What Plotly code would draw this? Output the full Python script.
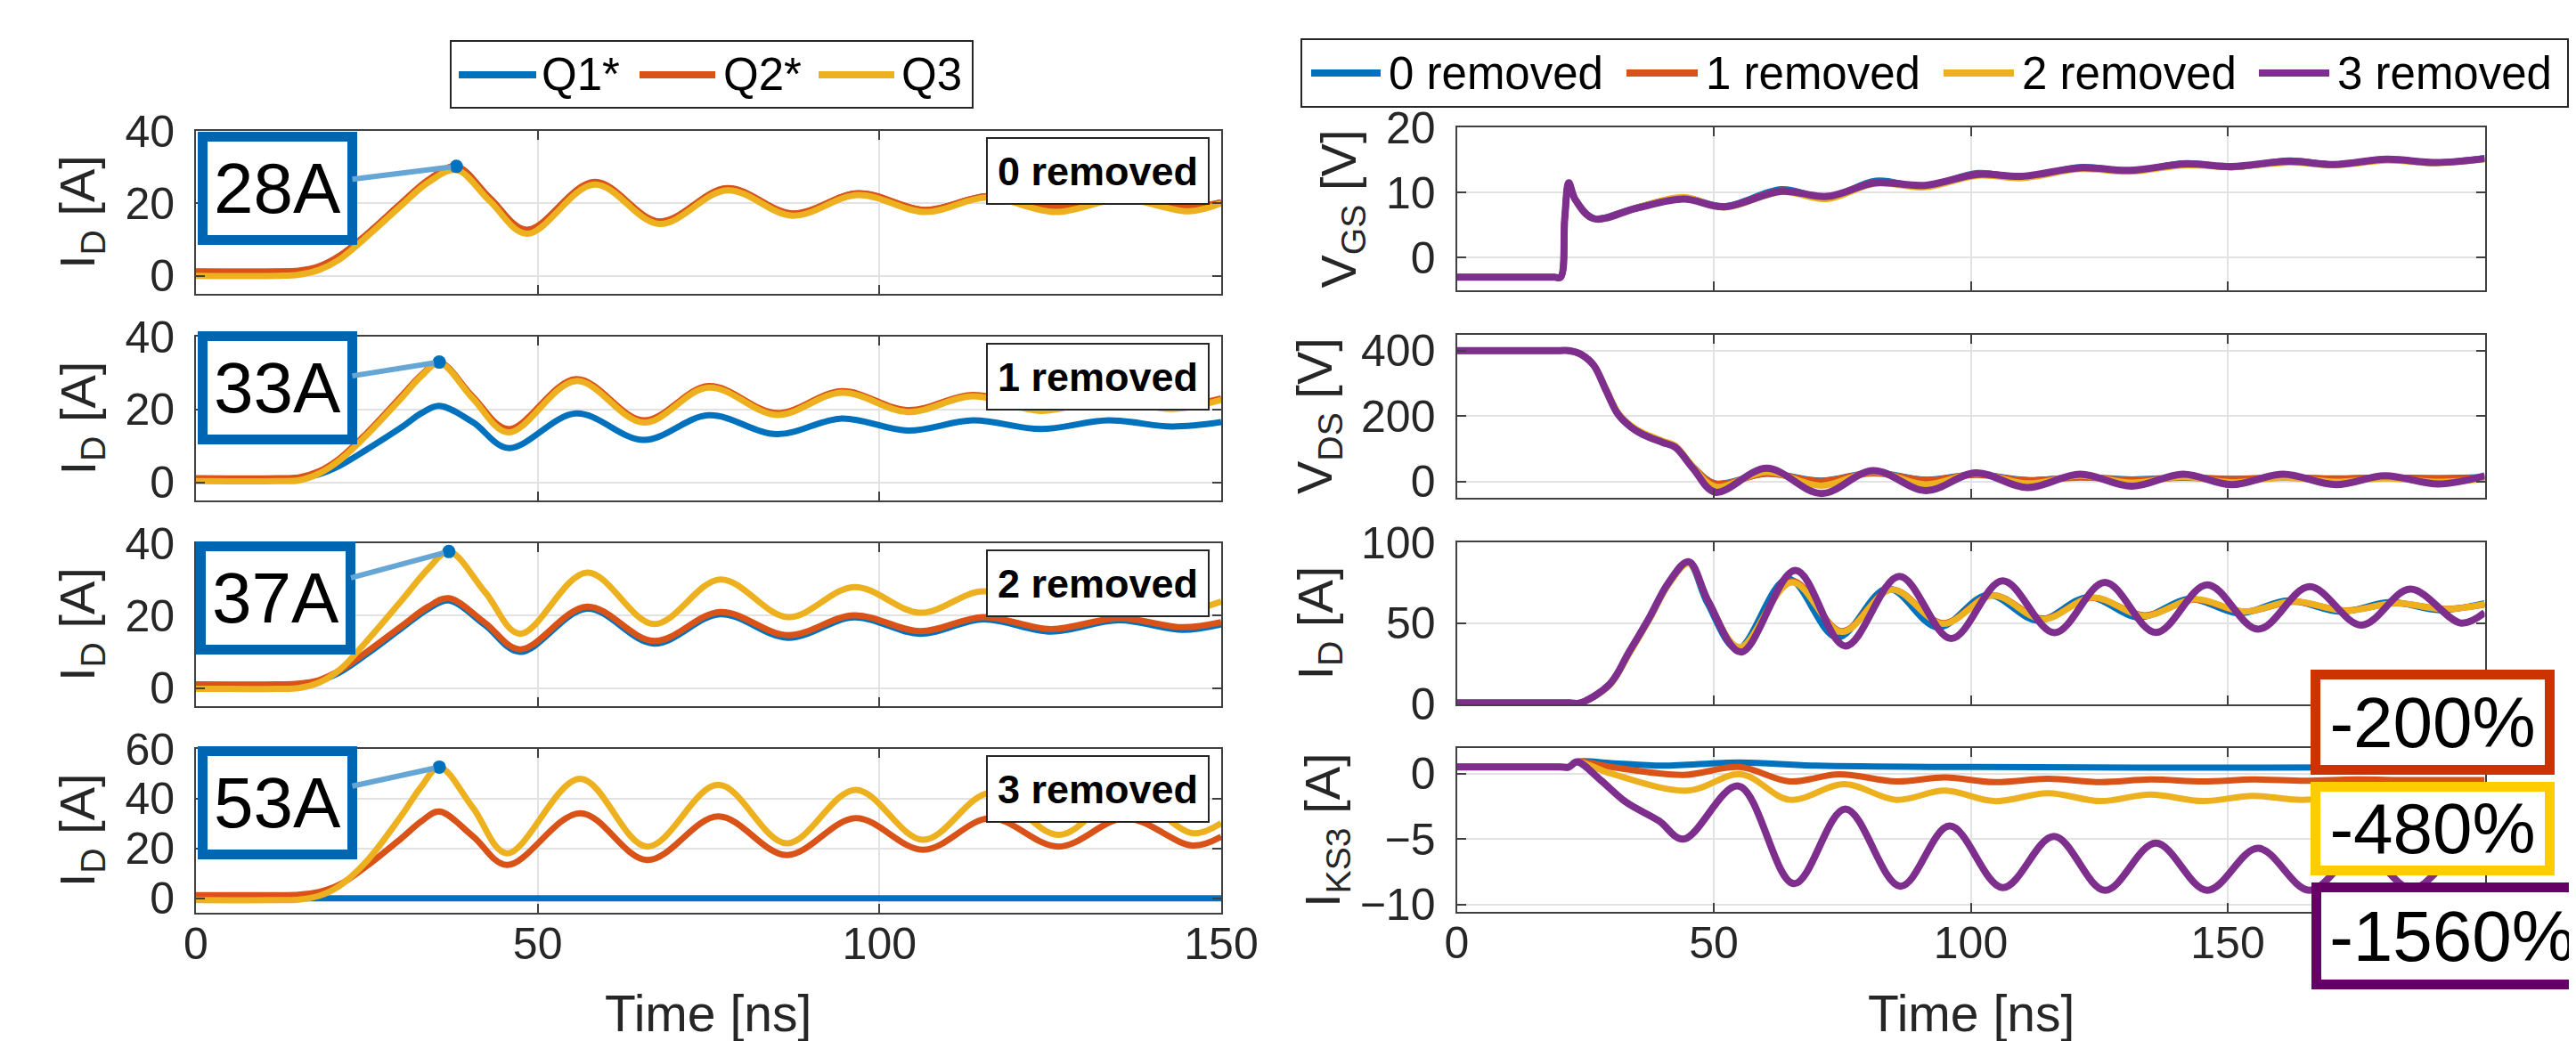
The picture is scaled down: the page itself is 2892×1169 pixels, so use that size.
import plotly.graph_objects as go

W, H = 2892, 1169

# ---------------- data ----------------
left_names = ["Q1*", "Q2*", "Q3"]
right_names = ["0 removed", "1 removed", "2 removed", "3 removed"]
panel_labels = ["0 removed", "1 removed", "2 removed", "3 removed"]
peak_labels = ["28A", "33A", "37A", "53A"]
peak_t = [38.1, 35.6, 37.0, 35.6]
peak_v = [30.2, 33.0, 37.7, 52.7]
pct_labels = ["-200%", "-480%", "-1560%"]
x_title = "Time [ns]"
left_ylabels = [("I", "D", "[A]")] * 4
right_ylabels = [("V", "GS", "[V]"), ("V", "DS", "[V]"), ("I", "D", "[A]"), ("I", "KS3", "[A]")]
left_xticks = [0, 50, 100, 150]
left_xticktext = ["0", "50", "100", "150"]
right_xticks = [0, 50, 100, 150, 200]
right_xticktext = ["0", "50", "100", "150", ""]   # 200 hidden behind the -1560% box
left_yticks = [[0, 20, 40], [0, 20, 40], [0, 20, 40], [0, 20, 40, 60]]
right_yticks = [[0, 10, 20], [0, 200, 400], [0, 50, 100], [-10, -5, 0]]

# left panel 1 (0 removed)
L1_t = [0, 12, 15, 18, 21, 25, 30, 34, 38.1, 43, 48.4, 58.3, 67.8, 77.7, 87.3, 96.9, 106.7, 115.8, 125.7, 135.4, 145.3, 150]
L1_q1 = [1.1, 1.1, 1.3, 2.5, 5.4, 11.4, 19.9, 26.4, 30.1, 21.4, 12.6, 25.8, 14.9, 24.1, 17.1, 22.7, 18.1, 21.9, 18.7, 21.2, 18.9, 20.2]
L1_q2 = [1.2, 1.2, 1.4, 2.6, 5.5, 11.5, 20.0, 26.5, 30.2, 21.5, 12.7, 25.9, 15.0, 24.2, 17.2, 22.8, 18.2, 22.0, 18.8, 21.3, 19.0, 20.3]
L1_q3 = [0.0, 0.0, 0.3, 1.6, 4.5, 10.8, 19.3, 25.8, 29.2, 20.6, 11.6, 25.2, 14.3, 23.6, 16.6, 22.3, 17.6, 21.6, 17.6, 21.2, 17.8, 20.0]

# left panel 2 (1 removed)
L2_t = [0, 12, 15, 18, 21, 25, 30, 33, 35.6, 40.5, 45.7, 55.6, 65.5, 75.0, 85.0, 94.5, 104.2, 113.7, 123.6, 133.5, 142.8, 150]
L2_q1 = [1.0, 1.0, 1.2, 2.2, 4.5, 9.0, 15.0, 19.0, 21.0, 16.5, 9.4, 18.9, 11.6, 18.4, 13.2, 17.5, 14.2, 17.0, 14.6, 17.0, 15.3, 16.5]
L2_q2 = [1.1, 1.1, 1.3, 3.0, 6.5, 13.5, 23.5, 29.5, 33.0, 23.5, 14.6, 28.3, 17.0, 26.4, 19.0, 25.0, 19.8, 24.0, 20.2, 23.2, 20.7, 23.0]
L2_q3 = [0.3, 0.3, 0.5, 2.4, 6.0, 13.0, 23.0, 29.2, 32.8, 23.0, 13.7, 27.8, 16.4, 26.0, 18.5, 24.6, 19.3, 23.6, 19.6, 22.8, 20.1, 22.6]

# left panel 3 (2 removed)
L3_t = [0, 12, 15, 18, 21, 25, 30, 34, 37.0, 42.3, 47.4, 57.2, 67.0, 76.7, 86.6, 96.3, 106.0, 115.2, 125.1, 135.0, 144.4, 150]
L3_q1 = [0.9, 0.9, 1.1, 2.0, 4.3, 9.4, 16.4, 21.9, 24.2, 17.4, 10.0, 21.9, 12.3, 20.4, 13.9, 19.5, 15.0, 19.0, 15.6, 18.7, 16.1, 17.6]
L3_q2 = [1.0, 1.0, 1.2, 2.2, 4.8, 10.0, 17.0, 22.5, 24.8, 18.0, 10.7, 22.5, 13.0, 21.0, 14.6, 20.1, 15.7, 19.6, 16.3, 19.3, 16.8, 18.2]
L3_q3 = [-0.2, -0.2, 0.0, 1.5, 5.0, 13.0, 24.0, 33.0, 37.7, 26.5, 15.0, 31.9, 17.7, 30.0, 19.6, 27.9, 20.8, 26.7, 21.0, 26.0, 21.5, 23.9]

# left panel 4 (3 removed)
L4_t = [0, 12, 15, 18, 21, 25, 30, 33, 35.6, 40.5, 45.5, 56.2, 66.0, 76.4, 86.4, 96.5, 106.4, 116.2, 126.2, 136.0, 145.8, 150]
L4_q1_t = [0, 150]
L4_q1 = [0.0, 0.0]
L4_q2 = [1.3, 1.3, 1.5, 2.6, 5.5, 13.0, 24.0, 31.0, 34.9, 25.0, 13.4, 34.2, 15.4, 32.9, 17.4, 32.2, 19.5, 32.2, 20.8, 32.2, 21.2, 24.8]
L4_q3 = [-0.7, -0.7, -0.5, 1.0, 5.0, 15.0, 33.0, 45.0, 52.7, 36.5, 18.1, 48.0, 20.8, 45.6, 22.1, 43.6, 23.5, 42.3, 25.5, 42.0, 26.2, 30.2]

# right panel 1: V_GS
R1_t = [0, 19.0, 20.2, 21.0, 21.8, 23.0, 26.6, 35.0, 44.1, 52.0, 63.2, 72.0, 81.5, 91.0, 101.4, 110.0, 121.3, 130.9, 142.0, 150.8, 162.0, 170.7, 181.0, 190.6, 200]
R1_r0 = [-3.0, -3.0, -3.0, 6.0, 11.4, 9.0, 6.1, 7.7, 9.2, 7.9, 10.5, 9.2, 11.8, 10.9, 13.0, 12.3, 13.9, 13.3, 14.5, 13.9, 14.9, 14.3, 15.1, 14.6, 15.3]
R1_r1 = [-3.0, -3.0, -3.0, 6.0, 11.4, 9.0, 6.0, 7.6, 9.1, 7.8, 10.3, 9.3, 11.6, 11.0, 12.9, 12.4, 13.8, 13.3, 14.4, 13.9, 14.8, 14.3, 15.0, 14.6, 15.2]
R1_r2 = [-3.0, -3.0, -3.0, 6.0, 11.4, 9.0, 6.0, 7.7, 9.3, 7.7, 10.1, 9.0, 11.4, 10.8, 12.6, 12.2, 13.6, 13.2, 14.2, 13.9, 14.6, 14.2, 14.9, 14.5, 15.1]
R1_r3 = [-3.0, -3.0, -3.0, 6.0, 11.5, 9.0, 6.0, 7.6, 9.0, 7.8, 10.2, 9.4, 11.5, 11.1, 12.8, 12.5, 13.8, 13.4, 14.4, 14.0, 14.8, 14.3, 15.1, 14.6, 15.2]

# right panel 2: V_DS
R2_t = [0, 20.0, 21.8, 24.0, 26.6, 29.0, 31.4, 34.0, 36.1, 40.0, 42.5, 46.0, 50.3, 60.3, 70.9, 81.0, 91.3, 101.0, 111.0, 121.3, 131.3, 141.3, 150.8, 160.8, 171.0, 180.6, 191.0, 200]
R2_r0 = [400, 400, 400, 390, 356, 280, 205, 165, 145, 120, 107, 45, -5, 25, 3, 28, 6, 22, 5, 14, 7, 13, 9, 13, 10, 13, 11, 14]
R2_r1 = [400, 400, 400, 390, 356, 280, 205, 165, 145, 120, 107, 45, -6, 24, 2, 26, 5, 21, 4, 13, 6, 12, 8, 12, 9, 12, 10, 13]
R2_r2 = [400, 400, 400, 390, 358, 285, 210, 170, 150, 125, 110, 45, -15, 30, -12, 30, -8, 25, -5, 18, -3, 15, -2, 13, 0, 10, 0, 8]
R2_r3 = [400, 400, 400, 390, 356, 280, 205, 165, 145, 120, 105, 40, -32, 41, -36, 34, -27, 27, -18, 23, -14, 23, -9, 23, -9, 18, -7, 18]

# right panel 3: I_D
R3_t0 = [0, 22.0, 24.0, 29.7, 33.5, 37.4, 41.2, 45.0, 48.8, 54.6, 64.4, 74.0, 83.8, 93.6, 103.3, 113.0, 122.8, 132.8, 142.6, 152.2, 161.8, 172.0, 181.6, 191.2, 200]
R3_r0 = [0.5, 0.5, 0.5, 12, 31.5, 52.5, 74.5, 87.5, 62, 34, 77.5, 41, 71.5, 47.2, 67.5, 51.5, 66.0, 53.5, 65.0, 56.0, 64.0, 57.0, 63.0, 58.0, 62.3]
R3_t12 = [0, 22.0, 24.0, 29.7, 33.5, 37.4, 41.2, 45.1, 49.0, 55.0, 65.2, 74.9, 84.6, 94.6, 104.3, 114.0, 123.7, 133.8, 143.6, 153.2, 162.7, 173.0, 182.6, 192.2, 200]
R3_r1 = [0.5, 0.5, 0.5, 11.5, 31, 52, 74, 87, 63, 34.5, 76.0, 45.0, 70.8, 50.0, 67.2, 52.8, 65.6, 54.8, 64.5, 57.0, 63.2, 57.8, 62.2, 58.7, 61.5]
R3_r2 = [0.5, 0.5, 0.5, 11.5, 31, 52, 74, 87, 63, 35.0, 75.2, 44.5, 70.6, 49.5, 67.0, 52.3, 65.8, 54.4, 64.8, 57.1, 63.4, 57.6, 62.3, 58.6, 61.7]
R3_t3 = [0, 22.0, 24.0, 29.7, 33.5, 37.4, 41.2, 45.1, 49.0, 55.3, 65.9, 75.6, 86.1, 96.2, 106.2, 116.3, 126.1, 136.0, 146.0, 155.9, 165.9, 176.0, 185.5, 195.4, 200]
R3_r3 = [0.5, 0.5, 0.5, 12, 32, 53, 75, 88, 63, 32, 82.6, 35.8, 78.9, 40.4, 76.1, 44.0, 75.2, 44.1, 73.7, 46.2, 72.5, 48.7, 71.0, 50.0, 56.5]

# right panel 4: I_KS3
R4_t0 = [0, 20.0, 21.8, 23.4, 30, 40, 55, 70, 100, 150, 200]
R4_r0 = [0.5, 0.5, 0.5, 0.9, 0.8, 0.6, 0.85, 0.6, 0.5, 0.45, 0.5]
R4_t1 = [0, 20.0, 21.8, 23.4, 30, 44.1, 55, 64.8, 74.4, 85.5, 95, 104.6, 115, 125.3, 135, 145.2, 155, 165, 175, 185, 200]
R4_r1 = [0.5, 0.5, 0.5, 0.9, 0.5, -0.1, 0.5, -0.6, -0.05, -0.6, -0.3, -0.65, -0.4, -0.65, -0.45, -0.6, -0.45, -0.55, -0.45, -0.5, -0.5]
R4_t2 = [0, 20.0, 21.8, 23.4, 30, 44.9, 55.3, 64.8, 75.4, 85.5, 95, 104.6, 115, 125.3, 134.9, 145.2, 154.8, 164.5, 174, 184, 194, 200]
R4_r2 = [0.5, 0.5, 0.5, 0.9, 0.0, -1.3, -0.05, -2.0, -0.8, -2.0, -1.3, -2.1, -1.5, -2.1, -1.6, -2.1, -1.7, -2.0, -1.7, -2.0, -1.8, -1.9]
R4_t3 = [0, 20.0, 21.8, 23.4, 28, 33, 39.3, 44.1, 54.8, 65.6, 75.6, 86.3, 95.9, 106.2, 116.2, 126.1, 136.0, 146.0, 155.9, 165.9, 176.0, 185.8, 195.0, 200]
R4_r3 = [0.5, 0.5, 0.5, 0.9, -0.5, -2.2, -3.6, -5.0, -0.95, -8.4, -2.7, -8.6, -4.0, -8.7, -4.8, -8.9, -5.3, -8.9, -5.7, -8.9, -5.9, -8.8, -6.2, -7.5]

# ---------------- styling / geometry ----------------
BLUE, ORANGE, YELLOW, PURPLE = "#0072BD", "#D95319", "#EDB120", "#7E2F8E"
AX = "rgb(64,64,64)"
TXT = "rgb(38,38,38)"
FONT = "Liberation Sans, Arial, Helvetica, sans-serif"

XDOM = {0: (212, 1363), 1: (1627.5, 2781.5)}
YDOM = {0: [(139, 322), (370, 554), (602, 785), (833, 1016.5)],
        1: [(135, 318), (368, 551), (601, 783), (832, 1016)]}
XR = {0: [0, 150], 1: [0, 200]}
YR = {0: [[-5, 40], [-5, 40], [-5, 40], [-5.6, 60]],
      1: [[-5, 20], [-49, 448], [-0.4, 100], [-10.55, 1.95]]}


def P(x):
    return x / W


def Q(y):
    return 1 - y / H


def to_px(col, row, t, v):
    x0, x1 = XDOM[col]
    yt, yb = YDOM[col][row]
    xr, yr = XR[col], YR[col][row]
    return (x0 + (t - xr[0]) / (xr[1] - xr[0]) * (x1 - x0),
            yb - (v - yr[0]) / (yr[1] - yr[0]) * (yb - yt))


def lab(main, sub, unit):
    return f"{main}<sub>{sub}</sub> {unit}"


fig = go.Figure()

left_series = [
    [(L1_t, L1_q1), (L1_t, L1_q2), (L1_t, L1_q3)],
    [(L2_t, L2_q1), (L2_t, L2_q2), (L2_t, L2_q3)],
    [(L3_t, L3_q1), (L3_t, L3_q2), (L3_t, L3_q3)],
    [(L4_q1_t, L4_q1), (L4_t, L4_q2), (L4_t, L4_q3)],
]
right_series = [
    [(R1_t, R1_r0), (R1_t, R1_r1), (R1_t, R1_r2), (R1_t, R1_r3)],
    [(R2_t, R2_r0), (R2_t, R2_r1), (R2_t, R2_r2), (R2_t, R2_r3)],
    [(R3_t0, R3_r0), (R3_t12, R3_r1), (R3_t12, R3_r2), (R3_t3, R3_r3)],
    [(R4_t0, R4_r0), (R4_t1, R4_r1), (R4_t2, R4_r2), (R4_t3, R4_r3)],
]
lcolors = [BLUE, ORANGE, YELLOW]
rcolors = [BLUE, ORANGE, YELLOW, PURPLE]

for row in range(4):
    ax_id = row + 1
    for k, (t, v) in enumerate(left_series[row]):
        fig.add_trace(go.Scatter(x=t, y=v, mode="lines", name=left_names[k],
                                 line=dict(color=lcolors[k], width=7, shape="spline"),
                                 xaxis=f"x{ax_id}", yaxis=f"y{ax_id}",
                                 showlegend=False, hoverinfo="skip"))
    fig.add_trace(go.Scatter(x=[peak_t[row]], y=[peak_v[row]], mode="markers",
                             marker=dict(size=15, color=BLUE),
                             xaxis=f"x{ax_id}", yaxis=f"y{ax_id}",
                             showlegend=False, hoverinfo="skip"))
    ax_id = row + 5
    for k, (t, v) in enumerate(right_series[row]):
        fig.add_trace(go.Scatter(x=t, y=v, mode="lines", name=right_names[k],
                                 line=dict(color=rcolors[k], width=8 if k == 3 else 7, shape="spline"),
                                 xaxis=f"x{ax_id}", yaxis=f"y{ax_id}",
                                 showlegend=False, hoverinfo="skip"))

layout = dict(width=W, height=H, margin=dict(l=0, r=0, t=0, b=0, autoexpand=False),
              paper_bgcolor="white", plot_bgcolor="white", showlegend=False)

common = dict(showline=True, linecolor=AX, linewidth=2, mirror="ticks",
              ticks="inside", ticklen=10, tickwidth=2, tickcolor=AX,
              showgrid=True, gridcolor="rgb(226,226,226)", gridwidth=2,
              zeroline=False, automargin=False,
              tickfont=dict(family=FONT, size=50, color=TXT))

for col in range(2):
    for row in range(4):
        i = col * 4 + row + 1
        x0, x1 = XDOM[col]
        yt, yb = YDOM[col][row]
        xa = dict(common, domain=[P(x0), P(x1)], range=XR[col],
                  tickvals=left_xticks if col == 0 else right_xticks,
                  ticktext=left_xticktext if col == 0 else right_xticktext,
                  showticklabels=(row == 3), anchor=f"y{i}", ticklabelstandoff=-10)
        ya = dict(common, domain=[Q(yb), Q(yt)], range=YR[col][row],
                  tickvals=left_yticks[row] if col == 0 else right_yticks[row],
                  anchor=f"x{i}", ticklabelstandoff=12)
        layout[f"xaxis{i}"] = xa
        layout[f"yaxis{i}"] = ya

fig.update_layout(**layout)

ann = []
shapes = []

# y-axis titles
left_lab_x = [82.5] * 4
right_lab_x = [1498, 1471.5, 1471.5, 1480]
for row in range(4):
    yt, yb = YDOM[0][row]
    ann.append(dict(x=P(left_lab_x[row]), y=Q((yt + yb) / 2), xref="paper", yref="paper",
                    text=lab(*left_ylabels[row]), textangle=-90, showarrow=False,
                    xanchor="center", yanchor="middle",
                    font=dict(family=FONT, size=56, color=TXT)))
    yt, yb = YDOM[1][row]
    ann.append(dict(x=P(right_lab_x[row]), y=Q((yt + yb) / 2), xref="paper", yref="paper",
                    text=lab(*right_ylabels[row]), textangle=-90, showarrow=False,
                    xanchor="center", yanchor="middle",
                    font=dict(family=FONT, size=56, color=TXT)))

# x-axis titles
for col in range(2):
    x0, x1 = XDOM[col]
    ann.append(dict(x=P((x0 + x1) / 2), y=Q(1164), xref="paper", yref="paper",
                    text=x_title, showarrow=False, xanchor="center", yanchor="bottom",
                    font=dict(family=FONT, size=57, color=TXT)))

# panel labels (left column)
for row in range(4):
    yt, yb = YDOM[0][row]
    ann.append(dict(x=P(1224.5), y=Q(yt + 45), xref="paper", yref="paper",
                    text=f"<b>{panel_labels[row]}</b>", showarrow=False,
                    xanchor="center", yanchor="middle", width=247, height=72,
                    bgcolor="white", bordercolor="rgb(38,38,38)", borderwidth=2, borderpad=0,
                    font=dict(family=FONT, size=45, color="black")))

# peak callouts
box_centers = [(303.5, 203.5), (303.5, 427.5), (302, 663.5), (303.5, 893)]
for row in range(4):
    mx, my = to_px(0, row, peak_t[row], peak_v[row])
    cx, cy = box_centers[row]
    ann.append(dict(x=peak_t[row], y=peak_v[row], xref=f"x{row+1}", yref=f"y{row+1}",
                    ax=cx - mx, ay=cy - my, axref="pixel", ayref="pixel",
                    text=peak_labels[row], showarrow=True, arrowhead=0, arrowwidth=6,
                    arrowcolor="rgb(102,166,212)", standoff=6,
                    width=157, height=105, borderpad=0, borderwidth=11,
                    bordercolor="rgb(0,102,178)", bgcolor="white",
                    font=dict(family=FONT, size=80, color="black")))

# percentage boxes
pct_boxes = [((2723, 803), 252, 96, "rgb(204,51,0)"),
             ((2723, 922.5), 252, 83, "rgb(255,204,0)"),
             ((2745, 1043), 294, 98, "rgb(102,0,102)")]
for k, ((cx, cy), w, h, c) in enumerate(pct_boxes):
    ann.append(dict(x=P(cx), y=Q(cy), xref="paper", yref="paper", text=pct_labels[k],
                    showarrow=False, xanchor="center", yanchor="middle",
                    width=w, height=h, borderpad=0, borderwidth=11, bordercolor=c,
                    bgcolor="white", font=dict(family=FONT, size=80, color="black")))


# legends (drawn manually)
def legend(box, items, ycen):
    x0, y0, x1, y1 = box
    shapes.append(dict(type="rect", xref="paper", yref="paper", x0=P(x0), x1=P(x1),
                       y0=Q(y1), y1=Q(y0), line=dict(color="rgb(38,38,38)", width=2),
                       fillcolor="white", layer="above"))
    for (lx0, lx1, tx, label, color) in items:
        shapes.append(dict(type="line", xref="paper", yref="paper", x0=P(lx0), x1=P(lx1),
                           y0=Q(ycen), y1=Q(ycen), line=dict(color=color, width=8),
                           layer="above"))
        ann.append(dict(x=P(tx), y=Q(ycen), xref="paper", yref="paper", text=label,
                        showarrow=False, xanchor="left", yanchor="middle",
                        font=dict(family=FONT, size=51, color="black")))


legend((498, 38, 1084, 113),
       [(507, 594, 598, left_names[0], BLUE),
        (710, 795, 802, left_names[1], ORANGE),
        (911, 996, 1002, left_names[2], YELLOW)], 76)
legend((1453, 36, 2875, 112),
       [(1464, 1542, 1549, right_names[0], BLUE),
        (1818, 1898, 1905, right_names[1], ORANGE),
        (2174, 2253, 2260, right_names[2], YELLOW),
        (2528, 2607, 2614, right_names[3], PURPLE)], 74)

fig.update_layout(annotations=ann, shapes=shapes)
fig.write_html("out.html")
